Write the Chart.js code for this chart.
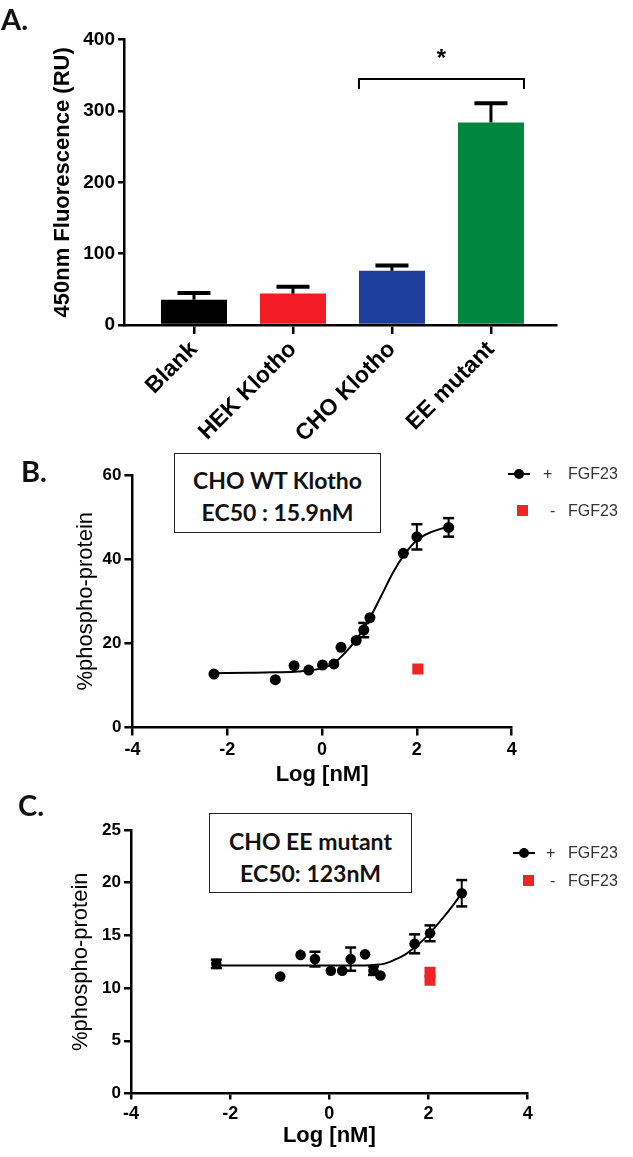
<!DOCTYPE html>
<html>
<head>
<meta charset="utf-8">
<script src="https://cdn.jsdelivr.net/npm/chart.js@4.4.1/dist/chart.umd.min.js"></script>
<style>
html,body{margin:0;padding:0;background:#fff;}
#wrap{position:relative;width:633px;height:1157px;overflow:hidden;background:#fff;}
canvas{position:absolute;left:0;}
.panel{position:absolute;font-family:Lato,'Liberation Sans',sans-serif;font-weight:700;font-size:29px;line-height:29px;color:#111;}
.box{position:absolute;box-sizing:border-box;border:1.5px solid #222;background:#fff;}
.box div{position:absolute;left:0;right:0;text-align:center;font-family:Lato,'Liberation Sans',sans-serif;font-weight:700;font-size:23px;line-height:24px;color:#111;white-space:nowrap;}
.lg{position:absolute;font-family:'Liberation Sans',Arial,sans-serif;font-size:16px;line-height:16px;color:#333;white-space:nowrap;}
.sw{position:absolute;}
</style>
</head>
<body>
<div id="wrap">
  <canvas id="cA" width="633" height="440" style="top:0px"></canvas>
  <canvas id="cB" width="633" height="360" style="top:440px"></canvas>
  <canvas id="cC" width="633" height="372" style="top:785px"></canvas>

  <div class="panel" style="left:1px;top:4px">A.</div>
  <div class="panel" style="left:21px;top:456px">B.</div>
  <div class="panel" style="left:18px;top:790px">C.</div>

  <div class="box" style="left:174px;top:453px;width:207px;height:80px">
    <div style="top:14px">CHO WT Klotho</div>
    <div style="top:46px">EC50 : 15.9nM</div>
  </div>
  <div class="box" style="left:209px;top:813px;width:203px;height:80px">
    <div style="top:15px">CHO EE mutant</div>
    <div style="top:47px">EC50: 123nM</div>
  </div>

  <!-- legend B -->
  <div class="sw" style="left:508px;top:473px;width:22px;height:2px;background:#000"></div>
  <div class="sw" style="left:514px;top:469px;width:10px;height:10px;border-radius:50%;background:#000"></div>
  <div class="lg" style="left:543px;top:466px">+</div>
  <div class="lg" style="left:568px;top:466px">FGF23</div>
  <div class="sw" style="left:517px;top:505px;width:11px;height:11px;background:#f02424"></div>
  <div class="lg" style="left:550px;top:503px">-</div>
  <div class="lg" style="left:568px;top:503px">FGF23</div>

  <!-- legend C -->
  <div class="sw" style="left:513px;top:852px;width:22px;height:2px;background:#000"></div>
  <div class="sw" style="left:519px;top:848px;width:10px;height:10px;border-radius:50%;background:#000"></div>
  <div class="lg" style="left:546px;top:845px">+</div>
  <div class="lg" style="left:568px;top:845px">FGF23</div>
  <div class="sw" style="left:523px;top:875px;width:11px;height:11px;background:#f02424"></div>
  <div class="lg" style="left:550px;top:873px">-</div>
  <div class="lg" style="left:568px;top:873px">FGF23</div>
</div>

<script>
// ---------------- Panel A data ----------------
const barCategories = ['Blank', 'HEK Klotho', 'CHO Klotho', 'EE mutant'];
const barValues = [35.5, 44, 76, 284];
const barErrors = [9.5, 9.5, 7.5, 27];
const barColors = ['#000000', '#f41c24', '#1f3f9e', '#00863e'];
const barYTicks = [0, 100, 200, 300, 400];
const sigLevel = 345, sigLegLevel = 331, sigStarLevel = 372;

// ---------------- Panel B data ----------------
const bLogConc = [-2.28, -0.985, -0.59, -0.28, 0.01, 0.25, 0.40, 0.72, 0.88, 1.01, 1.715, 2.0, 2.67];
const bPlus    = [12.7, 11.35, 14.7, 13.65, 14.85, 15.1, 19.05, 20.7, 23.15, 26.1, 41.4, 45.3, 47.55];
const bPlusErr = [0, 0, 0, 0, 0, 0, 0, 0, 1.7, 0, 0, 3.0, 2.2];
const bMinusLog = [2.02];
const bMinus    = [13.9];
const bFitLog = [-2.28, -1.5, -1, -0.5, 0, 0.25, 0.5, 0.75, 1.0, 1.25, 1.5, 1.75, 2.0, 2.25, 2.5, 2.67];
const bFit    = [12.9, 13.0, 13.1, 13.3, 14.1, 15.3, 17.9, 21.3, 25.8, 31.3, 36.9, 41.3, 44.5, 46.2, 47.2, 47.7];

// ---------------- Panel C data ----------------
const cLogConc = [-2.28, -0.99, -0.58, -0.29, 0.03, 0.26, 0.43, 0.72, 0.89, 1.03, 1.72, 2.03, 2.67];
const cPlus    = [12.3, 11.1, 13.15, 12.75, 11.65, 11.65, 12.75, 13.2, 11.65, 11.2, 14.2, 15.2, 19.0];
const cPlusErr = [0.4, 0, 0, 0.7, 0, 0, 1.1, 0, 0.4, 0, 0.9, 0.75, 1.25];
const cMinusLog = [2.03, 2.03];
const cMinus    = [11.5, 10.75];
const cFitLog = [-2.28, -1, 0, 0.5, 0.9, 1.1, 1.3, 1.5, 1.7, 1.9, 2.1, 2.3, 2.5, 2.67];
const cFit    = [12.15, 12.15, 12.15, 12.15, 12.2, 12.3, 12.65, 13.1, 13.8, 14.6, 15.6, 16.7, 17.9, 19.0];

const FONT = "'Liberation Sans', Arial, sans-serif";

const errorBarPlugin = {
  id: 'errbars',
  afterDatasetsDraw(chart) {
    const ctx = chart.ctx;
    const ys = chart.scales.y;
    chart.data.datasets.forEach((ds, i) => {
      if (!ds.errors) return;
      const meta = chart.getDatasetMeta(i);
      meta.data.forEach((el, j) => {
        const e = ds.errors[j];
        if (!e) return;
        const raw = ds.data[j];
        const v = (typeof raw === 'object') ? raw.y : raw;
        const x = el.x;
        const yTop = ys.getPixelForValue(v + e);
        const yBot = ds.errUpOnly ? ys.getPixelForValue(v) : ys.getPixelForValue(v - e);
        const half = ds.errUpOnly ? el.width * 0.25 : 5.5;
        ctx.save();
        ctx.strokeStyle = '#000';
        ctx.lineWidth = ds.errUpOnly ? 3 : 2;
        ctx.beginPath(); ctx.moveTo(x, yBot); ctx.lineTo(x, yTop); ctx.stroke();
        ctx.lineWidth = ds.errUpOnly ? 4 : 2.5;
        ctx.beginPath(); ctx.moveTo(x - half, yTop); ctx.lineTo(x + half, yTop); ctx.stroke();
        if (!ds.errUpOnly) { ctx.beginPath(); ctx.moveTo(x - half, yBot); ctx.lineTo(x + half, yBot); ctx.stroke(); }
        ctx.restore();
      });
    });
  }
};

const bracketPlugin = {
  id: 'bracket',
  afterDatasetsDraw(chart) {
    const ctx = chart.ctx;
    const ys = chart.scales.y;
    const meta = chart.getDatasetMeta(0);
    const b1 = meta.data[2], b2 = meta.data[3];
    const x1 = b1.x - b1.width / 2, x2 = b2.x + b2.width / 2;
    const yl = ys.getPixelForValue(sigLevel), yleg = ys.getPixelForValue(sigLegLevel);
    ctx.save();
    ctx.strokeStyle = '#000'; ctx.lineWidth = 2;
    ctx.beginPath();
    ctx.moveTo(x1, yleg); ctx.lineTo(x1, yl); ctx.lineTo(x2, yl); ctx.lineTo(x2, yleg);
    ctx.stroke();
    ctx.fillStyle = '#000';
    ctx.font = 'bold 24px ' + FONT;
    ctx.textAlign = 'center'; ctx.textBaseline = 'middle';
    ctx.fillText('*', (x1 + x2) / 2, ys.getPixelForValue(sigStarLevel));
    ctx.restore();
  }
};

function axisCommon(tickLen, lw) {
  return {
    grid: { display: true, drawOnChartArea: false, drawTicks: true, tickLength: tickLen, color: '#000', lineWidth: lw, offset: false },
    border: { display: true, color: '#000', width: lw }
  };
}

// ---------------- Chart A ----------------
new Chart(document.getElementById('cA'), {
  type: 'bar',
  data: {
    datasets: [{
      data: barValues.map((v, i) => ({ x: i + 1, y: v })),
      backgroundColor: barColors,
      borderWidth: 0,
      barPercentage: 0.667,
      categoryPercentage: 1,
      errors: barErrors,
      errUpOnly: true
    }]
  },
  options: {
    responsive: false, animation: false, devicePixelRatio: 1,
    layout: { padding: { top: 39.7, left: 0, right: 77, bottom: 0 } },
    plugins: { legend: { display: false }, tooltip: { enabled: false } },
    scales: {
      x: Object.assign(axisCommon(9, 2.5), {
        type: 'linear', min: 0.293, max: 4.657, offset: false,
        afterBuildTicks: s => { s.ticks = barCategories.map((c, i) => ({ value: i + 1 })); },
        ticks: {
          callback: v => barCategories[Math.round(v) - 1],
          minRotation: 45, maxRotation: 45, autoSkip: false,
          font: { family: FONT, size: 23, weight: 'bold' }, color: '#000', padding: 2
        },
        afterFit: s => { s.height = 115; }
      }),
      y: Object.assign(axisCommon(6, 2.5), {
        min: 0, max: 400,
        afterBuildTicks: s => { s.ticks = barYTicks.map(v => ({ value: v })); },
        ticks: { font: { family: FONT, size: 19, weight: 'bold' }, color: '#000', padding: 3 },
        title: { display: true, text: '450nm Fluorescence (RU)', color: '#000',
                 font: { family: FONT, size: 22, weight: 'bold' }, padding: { top: 50 } },
        afterFit: s => { s.width = 124; }
      })
    }
  },
  plugins: [errorBarPlugin, bracketPlugin]
});

// ---------------- Dose response charts ----------------
function doseChart(id, cfg) {
  return new Chart(document.getElementById(id), {
    type: 'scatter',
    data: {
      datasets: [
        { label: '+ FGF23', data: cfg.logs.map((x, i) => ({ x, y: cfg.plus[i] })),
          pointRadius: cfg.r, pointHoverRadius: cfg.r, pointBackgroundColor: '#000', pointBorderWidth: 0,
          errors: cfg.err, order: 0 },
        { label: '- FGF23', data: cfg.mLogs.map((x, i) => ({ x, y: cfg.minus[i] })),
          pointStyle: 'rect', pointRadius: 7.8, pointHoverRadius: 7.8,
          pointBackgroundColor: '#f02424', pointBorderWidth: 0, order: 1 },
        { type: 'line', label: 'fit', data: cfg.fitLogs.map((x, i) => ({ x, y: cfg.fit[i] })),
          borderColor: '#000', borderWidth: 2, pointRadius: 0, fill: false,
          cubicInterpolationMode: 'monotone', order: 2 }
      ]
    },
    options: {
      responsive: false, animation: false, devicePixelRatio: 1,
      layout: { padding: { top: cfg.top, left: 0, right: cfg.right, bottom: 0 } },
      plugins: { legend: { display: false }, tooltip: { enabled: false } },
      scales: {
        x: Object.assign(axisCommon(cfg.xTick, 2.5), {
          type: 'linear', min: -4, max: 4,
          ticks: { stepSize: 2, font: { family: FONT, size: 18, weight: 'bold' }, color: '#000', padding: cfg.xPad },
          title: { display: true, text: 'Log [nM]', color: '#000',
                   font: { family: FONT, size: 22, weight: 'bold' }, padding: { bottom: cfg.xTitlePad, top: 0 } },
          afterFit: s => { s.height = cfg.xH; }
        }),
        y: Object.assign(axisCommon(cfg.yTick, 2.5), {
          min: 0, max: cfg.yMax,
          ticks: { stepSize: cfg.yStep, font: { family: FONT, size: 17, weight: 'bold' }, color: '#000', padding: 3 },
          title: { display: true, text: '%phospho-protein', color: '#000',
                   font: { family: FONT, size: 22, weight: 'normal' }, padding: { top: cfg.yTitlePad } },
          afterFit: s => { s.width = cfg.yW; }
        })
      }
    },
    plugins: [errorBarPlugin]
  });
}

doseChart('cB', {
  logs: bLogConc, plus: bPlus, err: bPlusErr, mLogs: bMinusLog, minus: bMinus,
  fitLogs: bFitLog, fit: bFit, r: 5.5,
  top: 35, right: 121.3, xH: 72.5, yW: 132.4, yMax: 60, yStep: 20,
  xTick: 8, yTick: 8, xPad: 4, xTitlePad: 11.8, yTitlePad: 72.5
});

doseChart('cC', {
  logs: cLogConc, plus: cPlus, err: cPlusErr, mLogs: cMinusLog, minus: cMinus,
  fitLogs: cFitLog, fit: cFit, r: 5.3,
  top: 45, right: 105.3, xH: 63.5, yW: 131, yMax: 25, yStep: 5,
  xTick: 6, yTick: 7, xPad: 4, xTitlePad: 7.8, yTitlePad: 67.5
});
</script>
</body>
</html>
